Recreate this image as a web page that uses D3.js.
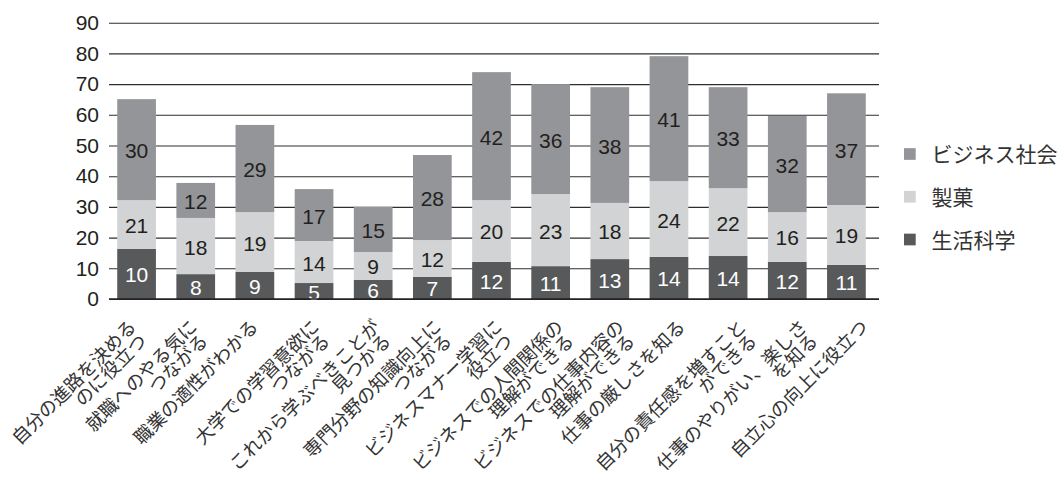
<!DOCTYPE html>
<html><head><meta charset="utf-8">
<script src="https://cdn.jsdelivr.net/npm/d3@7"></script>
<style>body{margin:0;background:#fff}</style>
</head><body><svg id="c" width="1063" height="479" style="background:#fff"></svg>
<script>
// ---- data ----
const categories = [
  "自分の進路を決める\nのに役立つ",
  "就職へのやる気に\nつながる",
  "職業の適性がわかる",
  "大学での学習意欲に\nつながる",
  "これから学ぶべきことが\n見つかる",
  "専門分野の知識向上に\nつながる",
  "ビジネスマナー学習に\n役立つ",
  "ビジネスでの人間関係の\n理解ができる",
  "ビジネスでの仕事内容の\n理解ができる",
  "仕事の厳しさを知る",
  "自分の責任感を増すこと\nができる",
  "仕事のやりがい、楽しさ\nを知る",
  "自立心の向上に役立つ"
];
const seriesNames = ["生活科学", "製菓", "ビジネス社会"];
// segment heights as drawn
const seikatsu = [16.3, 8.1, 8.8, 5.2, 6.2, 7.2, 12.1, 10.7, 13.0, 13.7, 14.0, 12.1, 11.1];
const seika    = [15.9, 18.3, 19.5, 13.7, 9.1, 12.0, 20.1, 23.5, 18.3, 24.7, 22.1, 16.2, 19.5];
const business = [32.9, 11.4, 28.4, 16.9, 14.7, 27.7, 41.7, 35.8, 37.7, 40.7, 32.9, 31.3, 36.4];
// printed value labels
const seikatsuLabels = [10, 8, 9, 5, 6, 7, 12, 11, 13, 14, 14, 12, 11];
const seikaLabels    = [21, 18, 19, 14, 9, 12, 20, 23, 18, 24, 22, 16, 19];
const businessLabels = [30, 12, 29, 17, 15, 28, 42, 36, 38, 41, 33, 32, 37];
const yTicks = [0, 10, 20, 30, 40, 50, 60, 70, 80, 90];

// ---- chart ----
const svg = d3.select("#c");
const NUM_FONT = "'Liberation Sans', Arial, Helvetica, sans-serif";
const JP_FONT = "'Noto Sans CJK JP', 'Noto Sans', sans-serif";

const y = d3.scaleLinear().domain([0, 90]).range([299, 22.7]);
const idx = d3.range(categories.length);
const x = d3.scaleBand().domain(idx).range([107, 876]).paddingInner(0.3457).paddingOuter(0.1728);
const color = d3.scaleOrdinal().domain(seriesNames).range(["#58595b", "#d1d3d4", "#939598"]);
const textColor = d3.scaleOrdinal().domain(seriesNames).range(["#ffffff", "#231f20", "#231f20"]);

const labelsBy = {"生活科学": seikatsuLabels, "製菓": seikaLabels, "ビジネス社会": businessLabels};
const rows = idx.map(i => ({i, "生活科学": seikatsu[i], "製菓": seika[i], "ビジネス社会": business[i]}));
const stacked = d3.stack().keys(seriesNames)(rows);

// gridlines
const grid = svg.append("g").attr("transform", "translate(109,0)")
  .call(d3.axisLeft(y).tickValues(yTicks).tickSize(-770).tickFormat(""));
grid.select(".domain").remove();
grid.selectAll(".tick line").attr("stroke", "#2e2e2e").attr("stroke-width", 1.1);

// y tick labels
const ya = svg.append("g").attr("transform", "translate(100,0)")
  .call(d3.axisLeft(y).tickValues(yTicks).tickSize(0).tickPadding(1));
ya.select(".domain").remove();
ya.selectAll("text").attr("font-family", NUM_FONT).attr("font-size", 21).attr("fill", "#231f20");

// bars
const layers = svg.append("g").selectAll("g").data(stacked).join("g")
  .attr("fill", d => color(d.key));
layers.selectAll("rect").data(d => d).join("rect")
  .attr("x", d => x(d.data.i))
  .attr("width", x.bandwidth())
  .attr("y", d => y(d[1]))
  .attr("height", d => y(d[0]) - y(d[1]));

// value labels
const lab = svg.append("g").attr("font-family", NUM_FONT).attr("font-size", 21).attr("text-anchor", "middle");
stacked.forEach(s => {
  lab.selectAll(null).data(s).join("text")
    .attr("x", d => x(d.data.i) + x.bandwidth() / 2)
    .attr("y", d => (y(d[0]) + y(d[1])) / 2 + 1)
    .attr("dominant-baseline", "central")
    .attr("fill", textColor(s.key))
    .text(d => labelsBy[s.key][d.data.i]);
});

// baseline
svg.append("line").attr("x1", 109).attr("x2", 879).attr("y1", y(0)).attr("y2", y(0))
  .attr("stroke", "#231f20").attr("stroke-width", 1.6);

// category labels (rotated)
const xl = d3.scalePoint().domain(idx).range([126, 858]);
const cat = svg.append("g").attr("font-family", JP_FONT).attr("font-size", 18.5).attr("fill", "#333");
idx.forEach(i => {
  const t = cat.append("text")
    .attr("transform", `translate(${xl(i) + 6.5},${323}) rotate(-45)`)
    .attr("text-anchor", "end");
  categories[i].split("\n").forEach((line, k) => {
    t.append("tspan").attr("x", k === 0 ? 0 : -2.5).attr("y", k * 17.5 + 7).text(line);
  });
});

// legend
const legendOrder = seriesNames.slice().reverse();
const ly = d3.scalePoint().domain(legendOrder).range([154, 239.5]);
const lg = svg.append("g");
lg.selectAll("rect").data(legendOrder).join("rect")
  .attr("x", 904).attr("y", d => ly(d) - 5.85).attr("width", 11.7).attr("height", 11.7)
  .attr("fill", d => color(d));
lg.selectAll("text").data(legendOrder).join("text")
  .attr("x", 931.5).attr("y", d => ly(d) + 8)
  .attr("font-family", JP_FONT).attr("font-size", 21).attr("fill", "#333")
  .text(d => d);
</script>
</body></html>
